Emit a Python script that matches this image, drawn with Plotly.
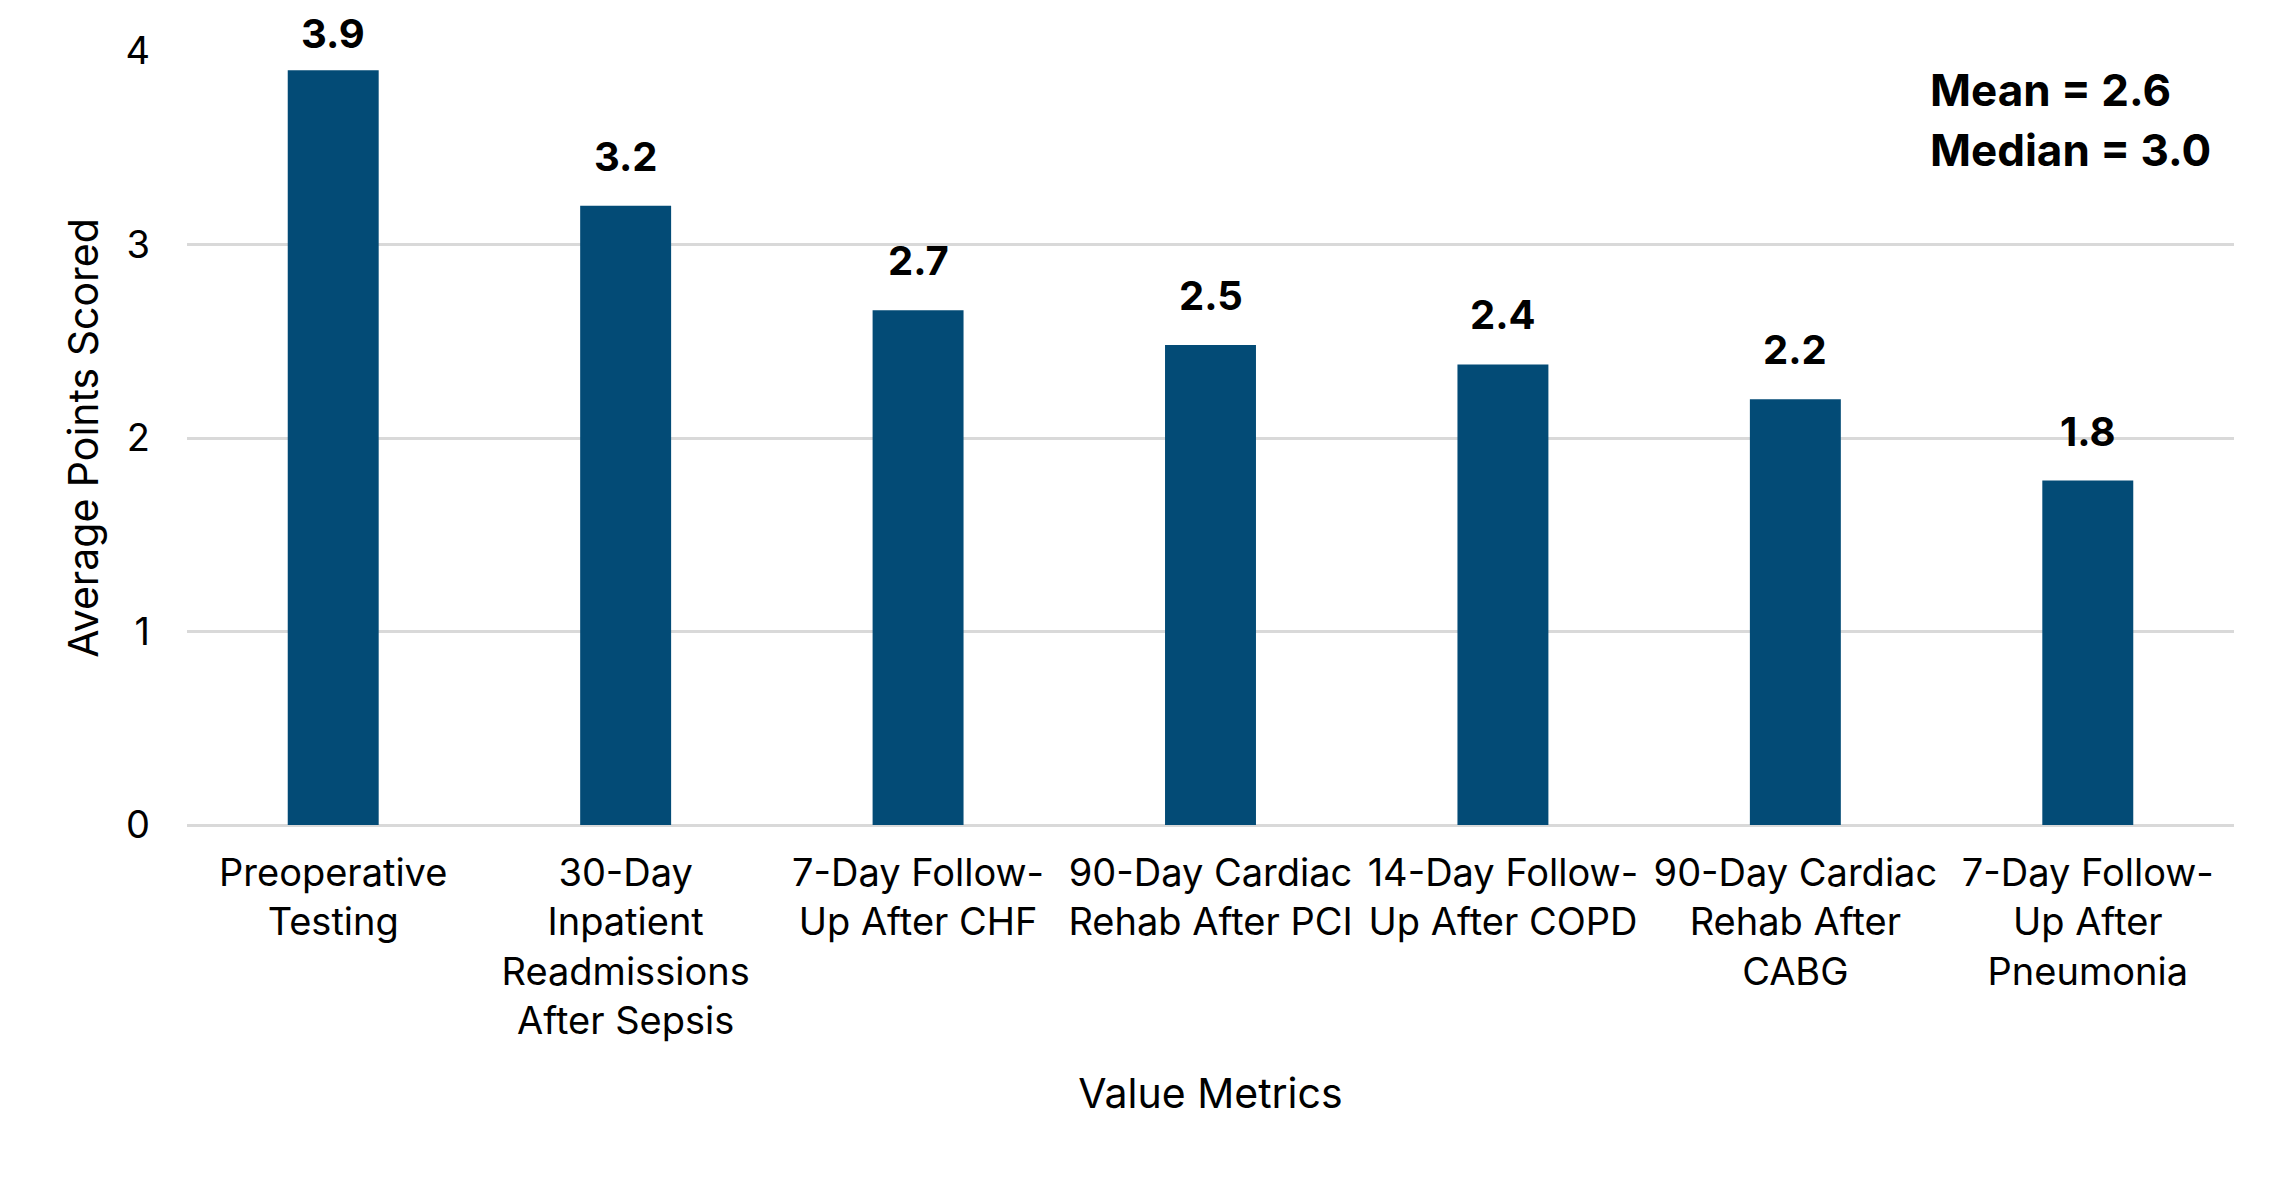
import plotly.graph_objects as go

categories = [
    "Preoperative<br>Testing",
    "30-Day<br>Inpatient<br>Readmissions<br>After Sepsis",
    "7-Day Follow-<br>Up After CHF",
    "90-Day Cardiac<br>Rehab After PCI",
    "14-Day Follow-<br>Up After COPD",
    "90-Day Cardiac<br>Rehab After<br>CABG",
    "7-Day Follow-<br>Up After<br>Pneumonia",
]
avg_points = [3.90, 3.20, 2.66, 2.48, 2.38, 2.20, 1.78]
y_ticks = [0, 1, 2, 3, 4]
summary_lines = ["Mean = 2.6", "Median = 3.0"]

BAR_COLOR = "#034B76"
GRID = "#D9D9D9"
FONT = "Inter"

fig = go.Figure(
    go.Bar(
        x=categories,
        y=avg_points,
        marker=dict(color=BAR_COLOR, line=dict(width=0)),
        hoverinfo="skip",
    )
)

# value labels above bars (Excel keeps the top one inside the chart area)
for cat, v in zip(categories, avg_points):
    shift = min(23, (4.0 - v) * 193.5 - 9)
    fig.add_annotation(
        x=cat, y=v, xref="x", yref="y",
        text=f"<b>{v:.1f}</b>", showarrow=False,
        yanchor="bottom", yshift=shift,
        font=dict(family=FONT, size=40, color="black"),
    )

fig.add_annotation(
    x=0.8505, y=0.950, xref="paper", yref="paper",
    text=f"<b>{summary_lines[0]}</b>", showarrow=False,
    xanchor="left", yanchor="middle",
    font=dict(family=FONT, size=44, color="black"),
)
fig.add_annotation(
    x=0.8505, y=0.8726, xref="paper", yref="paper",
    text=f"<b>{summary_lines[1]}</b>", showarrow=False,
    xanchor="left", yanchor="middle",
    font=dict(family=FONT, size=44, color="black"),
)

fig.update_layout(
    width=2269, height=1162,
    margin=dict(l=179, r=43, t=43, b=345),
    paper_bgcolor="white", plot_bgcolor="white",
    bargap=0.689,
    showlegend=False,
    font=dict(family=FONT, color="black"),
)
fig.update_xaxes(
    showgrid=False, showline=False, zeroline=False,
    tickfont=dict(family=FONT, size=38, color="black"),
    ticklabelstandoff=22,
    title=dict(text="Value Metrics", font=dict(family=FONT, size=41, color="black"), standoff=37),
)
fig.update_yaxes(
    range=[0, 4], tickvals=y_ticks,
    showgrid=True, gridcolor=GRID, gridwidth=3,
    zeroline=True, zerolinecolor=GRID, zerolinewidth=3,
    showline=False,
    tickfont=dict(family=FONT, size=38, color="black"),
    ticklabelstandoff=36,
    title=dict(text="Average Points Scored", font=dict(family=FONT, size=41, color="black"), standoff=14),
)

fig.write_html("out.html")
